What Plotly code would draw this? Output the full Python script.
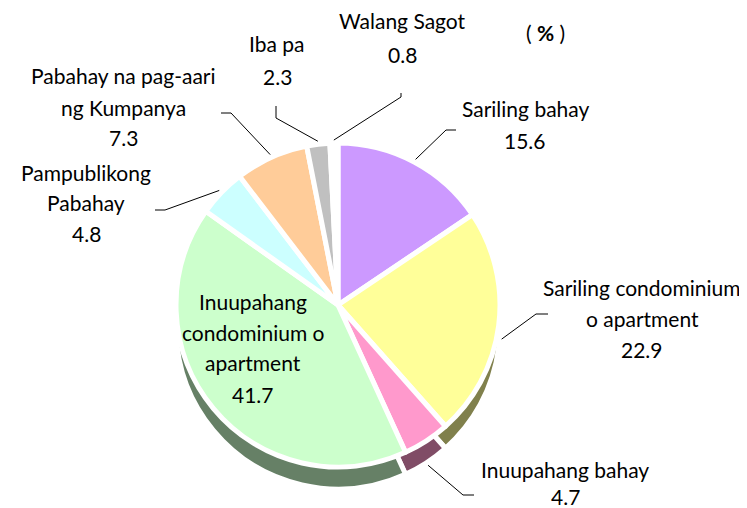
import math
import plotly.graph_objects as go

# ---- data ----
categories = ["Sariling bahay", "Sariling condominium o apartment", "Inuupahang bahay",
              "Inuupahang condominium o apartment", "Pampublikong Pabahay",
              "Pabahay na pag-aari ng Kumpanya", "Iba pa", "Walang Sagot"]
values = [15.6, 22.9, 4.7, 41.7, 4.8, 7.3, 2.3, 0.8]
label_lines = [["Sariling bahay"], ["Sariling condominium", "o apartment"], ["Inuupahang bahay"],
               ["Inuupahang", "condominium o", "apartment"], ["Pampublikong", "Pabahay"],
               ["Pabahay na pag-aari", "ng Kumpanya"], ["Iba pa"], ["Walang Sagot"]]
top_colors = ["#CC99FF", "#FFFF99", "#FF99CC", "#CCFFCC", "#CCFFFF", "#FFCC99", "#C0C0C0", "#FFFFFF"]
side_colors = ["#664C80", "#80804C", "#804C66", "#668066", "#668080", "#80664C", "#606060", "#FFFFFF"]

W, H = 747, 508
CX, CY, R, DEPTH = 330, 297, 162, 22
FONT = "Lato"
FS = 21
YOFF = -8  # visual-centre correction for annotations

def px(x):
    return x / W

def py(y):
    return 1 - y / H

def dom(cy):
    return dict(x=[px(CX - R), px(CX + R)], y=[py(cy + R), py(cy - R)])

fig = go.Figure()
# side (depth) pie
fig.add_trace(go.Pie(labels=categories, values=values, sort=False, direction="clockwise",
                     rotation=0, textinfo="none", hoverinfo="skip", showlegend=False,
                     marker=dict(colors=side_colors, line=dict(color="white", width=5)),
                     domain=dom(CY + DEPTH)))
# top pie
fig.add_trace(go.Pie(labels=categories, values=values, sort=False, direction="clockwise",
                     rotation=0, textinfo="none", hoverinfo="label+value", showlegend=False,
                     marker=dict(colors=top_colors, line=dict(color="white", width=5)),
                     domain=dom(CY)))

# label placement: (text centre x, list of line centre y's, leader elbow points, side-depth share)
label_pos = {
    0: (517, [109, 140], [(448, 122), (438, 122)], 0.0),
    1: (634, [287, 318, 349], [(540, 306), (528, 306)], 0.6),
    2: (557, [469, 496], [(466, 487), (455, 487)], 1.0),
    3: (245, [301, 332, 362, 394], None, 0.0),
    4: (78, [172, 202, 233], [(147, 202), (157, 202)], 0.0),
    5: (115, [76, 107, 137], [(213, 105), (223, 105)], 0.0),
    6: (269, [44, 77], [(268, 98), (268, 110)], 0.0),
    7: (394, [21, 54], [(393, 85), (393, 89)], 0.0),
}

total = sum(values)
cum = 0.0
shapes = []
annotations = []
for i, v in enumerate(values):
    mid = (cum + v / 2) / total * 2 * math.pi
    cum += v
    x0, ys, elbow, share = label_pos[i]
    lines = label_lines[i] + [f"{v:.1f}"]
    for t, yy in zip(lines, ys):
        annotations.append(dict(text=t, x=px(x0), y=py(yy + YOFF), xref="paper", yref="paper",
                                xanchor="center", yanchor="middle", showarrow=False,
                                font=dict(family=FONT, size=FS, color="black")))
    if elbow:
        ex = CX + (R + 3) * math.sin(mid)
        ey = CY - (R + 3) * math.cos(mid) + DEPTH * share
        pts = elbow + [(ex, ey)]
        path = "M " + " L ".join(f"{px(a)},{py(b)}" for a, b in pts)
        shapes.append(dict(type="path", path=path, xref="paper", yref="paper",
                           line=dict(color="black", width=1), layer="above"))

annotations.append(dict(text="( <b>%</b> )", x=px(537), y=py(32 + YOFF), xref="paper", yref="paper",
                        xanchor="center", yanchor="middle", showarrow=False,
                        font=dict(family=FONT, size=21, color="black")))

fig.update_layout(width=W, height=H, margin=dict(l=0, r=0, t=0, b=0),
                  paper_bgcolor="white", plot_bgcolor="white",
                  shapes=shapes, annotations=annotations)
fig.write_html("out.html")
